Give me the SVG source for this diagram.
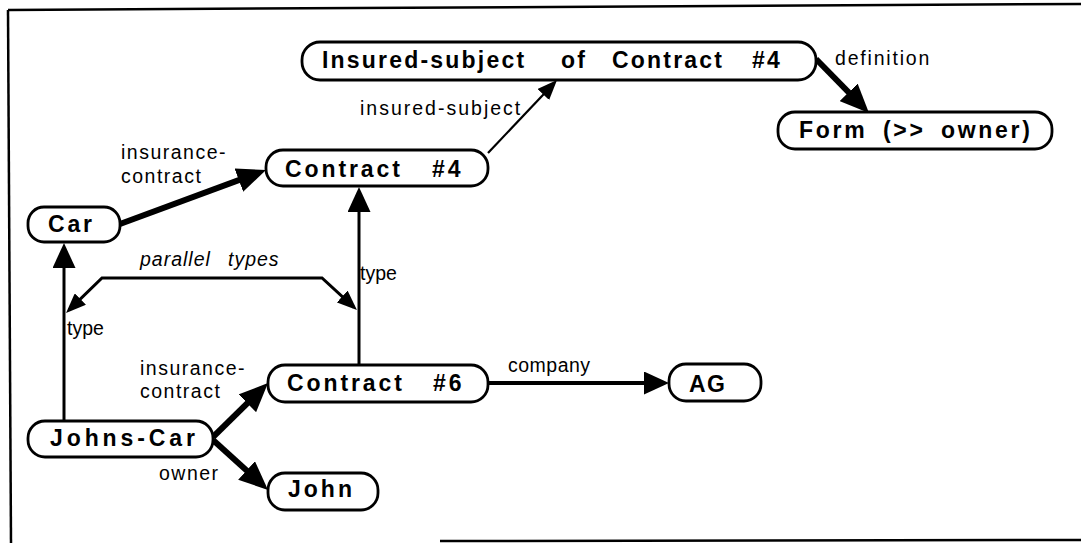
<svg xmlns="http://www.w3.org/2000/svg" width="1081" height="543" viewBox="0 0 1081 543">
<style>
.node rect{fill:#fff;stroke:#000;stroke-width:2.8}
.node text{font-family:"Liberation Sans",Arial,Helvetica,sans-serif;font-weight:bold;font-size:23px;letter-spacing:2.9px;fill:#000}
.lbl{font-family:"Liberation Sans",Arial,Helvetica,sans-serif;font-size:19.5px;letter-spacing:1.5px;fill:#000}
.thick{stroke:#000;stroke-width:6;fill:none}
.med{stroke:#000;stroke-width:3;fill:none}
.thin{stroke:#000;stroke-width:2.2;fill:none}
.frame{stroke:#000;stroke-width:2.5;fill:none}
</style>
<defs>
<marker id="big" markerUnits="userSpaceOnUse" markerWidth="29" markerHeight="25" refX="21" refY="12.5" orient="auto"><path d="M0,0 L29,12.5 L0,25 z" fill="#000"/></marker>
<marker id="mid" markerUnits="userSpaceOnUse" markerWidth="25" markerHeight="23" refX="19" refY="11.5" orient="auto"><path d="M0,0 L25,11.5 L0,23 z" fill="#000"/></marker>
<marker id="small" markerUnits="userSpaceOnUse" markerWidth="20" markerHeight="16" refX="16" refY="8" orient="auto-start-reverse"><path d="M0,0 L20,8 L0,16 z" fill="#000"/></marker>
</defs>
<g id="frame">
<path class="frame" d="M8,10 L1081,4"/>
<path class="frame" d="M8,10 L11,543"/>
<path class="frame" d="M440,541 L1081,540"/>
</g>
<g id="connectors">
<line class="thick" x1="120" y1="224" x2="258.5" y2="172.8" marker-end="url(#big)"/>
<line class="thin" x1="488" y1="153" x2="554.3" y2="82.9" marker-end="url(#small)"/>
<line class="thick" x1="816" y1="59" x2="863.4" y2="107.3" marker-end="url(#big)"/>
<line class="med" x1="64" y1="421" x2="64" y2="249" marker-end="url(#mid)"/>
<line class="med" x1="359" y1="365" x2="359" y2="193" marker-end="url(#mid)"/>
<path class="med" d="M68.9,310.2 L102,278 L322,278 L354,307.3" marker-start="url(#small)" marker-end="url(#small)"/>
<line class="thick" x1="213" y1="437" x2="262.3" y2="388.6" marker-end="url(#big)"/>
<line class="thick" x1="213" y1="440" x2="262.1" y2="484.6" marker-end="url(#big)"/>
<line class="thick" style="stroke-width:4" x1="489" y1="383" x2="663" y2="383" marker-end="url(#mid)"/>
<text class="lbl" style="letter-spacing:2px" x="360" y="115">insured-subject</text>
<text class="lbl" style="letter-spacing:1.8px" x="835" y="65">definition</text>
<text class="lbl" x="121" y="159">insurance-<tspan x="121" y="183">contract</tspan></text>
<text class="lbl" style="font-style:italic;letter-spacing:1px" x="140" y="266">parallel <tspan x="228">types</tspan></text>
<text class="lbl" style="letter-spacing:0px" x="67" y="335">type</text>
<text class="lbl" style="letter-spacing:0px" x="360" y="280">type</text>
<text class="lbl" x="140" y="375">insurance-<tspan x="140" y="398">contract</tspan></text>
<text class="lbl" x="159" y="480">owner</text>
<text class="lbl" style="letter-spacing:0.5px" x="508" y="372">company</text>
</g>
<g id="n-insured" class="node">
<rect x="302" y="42" width="514" height="38" rx="18"/>
<text x="322" y="68" style="letter-spacing:2.2px">Insured-subject<tspan x="561">of</tspan><tspan x="612">Contract</tspan><tspan x="752">#4</tspan></text>
</g>
<g id="n-form" class="node">
<rect x="778" y="112" width="274" height="37" rx="17"/>
<text x="799" y="138" style="letter-spacing:2.7px">Form<tspan x="883">(&gt;&gt;</tspan><tspan x="941">owner)</tspan></text>
</g>
<g id="n-contract4" class="node">
<rect x="266" y="150" width="222" height="36" rx="17"/>
<text x="285" y="177">Contract<tspan x="432">#4</tspan></text>
</g>
<g id="n-car" class="node">
<rect x="28" y="207" width="92" height="35" rx="16"/>
<text x="48" y="232" style="letter-spacing:2.8px">Car</text>
</g>
<g id="n-contract6" class="node">
<rect x="268" y="365" width="220" height="37" rx="17"/>
<text x="287" y="391">Contract<tspan x="433">#6</tspan></text>
</g>
<g id="n-ag" class="node">
<rect x="669" y="364" width="92" height="37" rx="17"/>
<text x="689" y="392" style="letter-spacing:1.5px">AG</text>
</g>
<g id="n-johnscar" class="node">
<rect x="28" y="421" width="185" height="36" rx="17"/>
<text x="50" y="446" style="letter-spacing:3.9px">Johns-Car</text>
</g>
<g id="n-john" class="node">
<rect x="268" y="473" width="110" height="37" rx="17"/>
<text x="288" y="497" style="letter-spacing:3px">John</text>
</g>
</svg>
